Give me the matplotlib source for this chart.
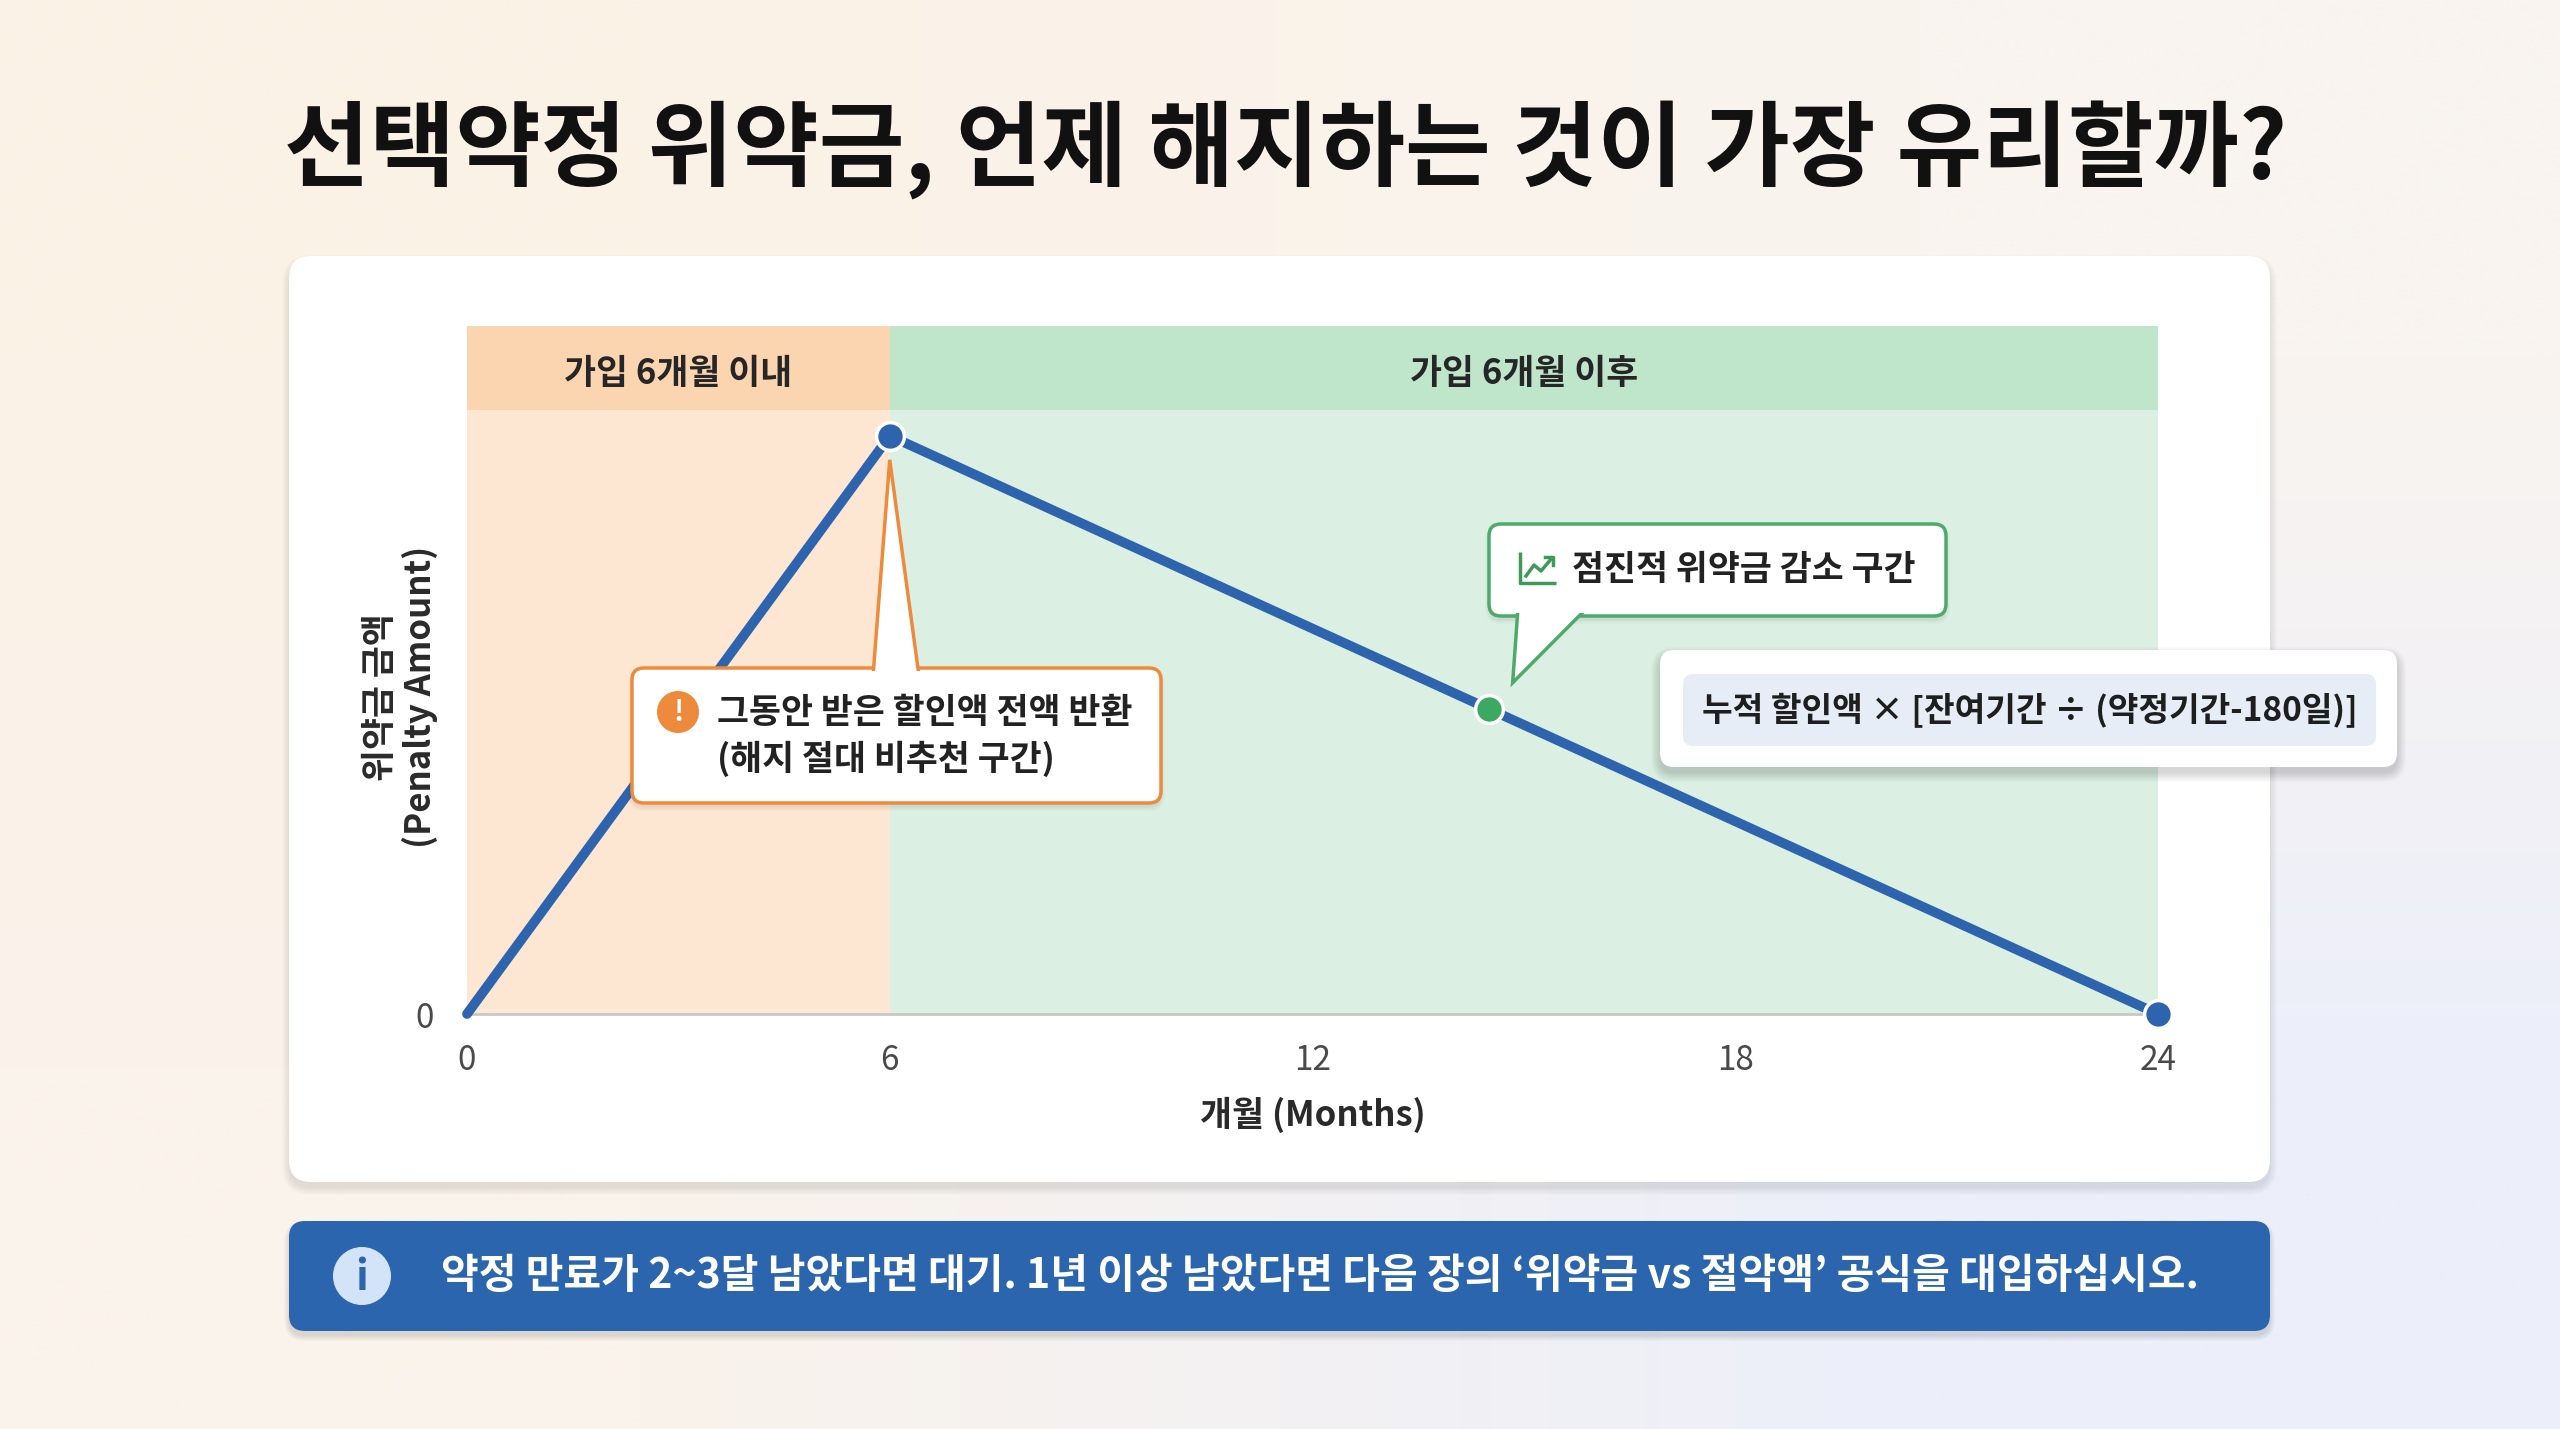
import matplotlib
matplotlib.use("Agg")
import matplotlib.pyplot as plt
import numpy as np
from matplotlib.colors import to_rgb
from matplotlib.patches import FancyBboxPatch, Polygon, Circle

plt.rcParams["font.family"] = ["Noto Sans CJK KR", "DejaVu Sans"]

W, H = 2560, 1429

# chart data
months = [0, 6, 24]
penalty = [0, 100, 0]
marker_months = [6, 24]
marker_values = [100, 0]
mid_month = [14.5]
mid_value = [52.8]
x_ticks = [0, 6, 12, 18, 24]
y_ticks = [0]
phase_edges = [0, 6, 24]
phase_names = ["가입 6개월 이내", "가입 6개월 이후"]

title = "선택약정 위약금, 언제 해지하는 것이 가장 유리할까?"
y_label = "위약금 금액\n(Penalty Amount)"
x_label = "개월 (Months)"
warn_lines = ["그동안 받은 할인액 전액 반환", "(해지 절대 비추천 구간)"]
trend_note = "점진적 위약금 감소 구간"
formula = "누적 할인액 × [잔여기간 ÷ (약정기간-180일)]"
banner = "약정 만료가 2~3달 남았다면 대기. 1년 이상 남았다면 다음 장의 ‘위약금 vs 절약액’ 공식을 대입하십시오."

BLUE = "#2d64ad"
GREEN = "#3da862"
ORANGE = "#ee8a3c"
phase_fill = ["#fde7d3", "#dbf0e2"]
phase_head = ["#fbd5b0", "#bfe6cb"]


def rbox(axo, x, y, w, h, r, **kw):
    p = FancyBboxPatch((x, y), w, h, boxstyle=f"round,pad=0,rounding_size={r}", **kw)
    axo.add_patch(p)
    return p


def shadow(axo, x, y, w, h, r, n=8, dy=6, alpha=0.012, z=1):
    for i in range(n):
        rbox(axo, x - i, y - i + dy, w + 2 * i, h + 2 * i, r + i,
             fc="black", ec="none", alpha=alpha, zorder=z)


fig = plt.figure(figsize=(W / 100, H / 100), dpi=100)

# background layer in pixel coordinates
bg = fig.add_axes([0, 0, 1, 1], zorder=0)
bg.set_xlim(0, W)
bg.set_ylim(H, 0)
bg.axis("off")
corners = np.array([[to_rgb("#fbf2e6"), to_rgb("#f9f4ef")],
                    [to_rgb("#faf3eb"), to_rgb("#eceffa")]])
bg.imshow(corners, extent=(0, W, H, 0), interpolation="bilinear", aspect="auto", zorder=0)

shadow(bg, 289, 256, 1981, 926, 22)
rbox(bg, 289, 256, 1981, 926, 22, fc="white", ec="none", zorder=2)

shadow(bg, 289, 1221, 1981, 110, 16, n=6, dy=5, alpha=0.02)
rbox(bg, 289, 1221, 1981, 110, 16, fc="#2a65ae", ec="none", zorder=2)
bg.add_patch(Circle((362, 1276), 29, fc="#d3e3f8", ec="none", zorder=3))
bg.text(362, 1278, "i", ha="center", va="center", fontsize=30, fontweight="bold",
        color="#2a65ae", zorder=4)
bg.text(441, 1276, banner, ha="left", va="center", fontsize=29.5, fontweight="bold",
        color="white", zorder=4)

fig.text(1286 / W, 1 - 150 / H, title, ha="center", va="center", fontsize=67,
         fontweight="heavy", color="#111111")

# main chart
ax = fig.add_axes([467 / W, 1 - 1014 / H, 1691 / W, 688 / H], zorder=1)
ax.patch.set_alpha(0)
ax.set_xlim(0, 24)
ax.set_ylim(0, 119)
band = 104.5
for i, name in enumerate(phase_names):
    a, b = phase_edges[i], phase_edges[i + 1]
    ax.axvspan(a, b, ymin=0, ymax=band / 119, color=phase_fill[i], lw=0, zorder=0)
    ax.axvspan(a, b, ymin=band / 119, ymax=1, color=phase_head[i], lw=0, zorder=0)
    ax.text((a + b) / 2, (band + 119) / 2 - 0.9, name, ha="center", va="center",
            fontsize=25, fontweight="bold", color="#262626")

ax.plot(months, penalty, color=BLUE, lw=7, solid_capstyle="round", zorder=3, clip_on=False)
ax.plot(marker_months, marker_values, "o", ms=20, mfc=BLUE, mec="white", mew=2.5,
        zorder=4, clip_on=False)
ax.plot(mid_month, mid_value, "o", ms=20, mfc=GREEN, mec="white", mew=2.5,
        zorder=4, clip_on=False)

for s in ["top", "right", "left"]:
    ax.spines[s].set_visible(False)
ax.spines["bottom"].set_color("#c8c8c8")
ax.spines["bottom"].set_linewidth(2)
ax.set_xticks(x_ticks)
ax.set_yticks(y_ticks)
ax.tick_params(length=0, labelsize=24, labelcolor="#4a4a4a")
ax.tick_params(axis="x", pad=21)
ax.tick_params(axis="y", pad=24)
ax.set_xlabel(x_label, fontsize=25, fontweight="bold", color="#2a2a2a")
ax.xaxis.set_label_coords(0.5, -0.12)
ax.set_ylabel(y_label, fontsize=25, fontweight="bold", color="#2a2a2a", linespacing=1.15)
ax.yaxis.set_label_coords(-0.017, 0.461)

# overlay for callouts (pixel coordinates)
ov = fig.add_axes([0, 0, 1, 1], zorder=2)
ov.set_xlim(0, W)
ov.set_ylim(H, 0)
ov.axis("off")
ov.patch.set_alpha(0)


def to_px(x, y):
    d = ax.transData.transform((x, y))
    return ov.transData.inverted().transform(d)


def callout(x, y, w, h, base, tip, edge, top=True):
    shadow(ov, x, y, w, h, 12, n=5, dy=4, alpha=0.015, z=2)
    rbox(ov, x, y, w, h, 12, fc="white", ec=edge, lw=2.5, zorder=3)
    by = y + 8 if top else y + h - 8
    ov.add_patch(Polygon([(base[0], by), tip, (base[1], by)], closed=True,
                         fc="white", ec=edge, lw=2.5, joinstyle="miter", zorder=4))
    rbox(ov, x + 3, y + 3, w - 6, h - 6, 10, fc="white", ec="none", zorder=5)


peak = to_px(marker_months[0], marker_values[0])
callout(632, 668, 529, 135, (873, 919), (peak[0], peak[1] + 24), ORANGE, top=True)
ov.add_patch(Circle((678, 712), 21, fc=ORANGE, ec="none", zorder=6))
ov.text(678, 713, "!", ha="center", va="center", fontsize=20, fontweight="bold",
        color="white", zorder=7)
ov.text(717, 712, warn_lines[0], ha="left", va="center", fontsize=25, fontweight="bold",
        color="#222222", zorder=7)
ov.text(717, 759, warn_lines[1], ha="left", va="center", fontsize=25, fontweight="bold",
        color="#222222", zorder=7)

mid = to_px(mid_month[0], mid_value[0])
callout(1489, 524, 457, 92, (1518, 1587), (mid[0] + 24, mid[1] - 26), "#4caa6a", top=False)
ov.plot([1520, 1520, 1556], [552, 583, 583], color="#3f9a5a", lw=2.5, zorder=7,
        solid_capstyle="butt")
ov.plot([1526, 1534, 1541, 1552], [576, 565, 571, 558], color="#3f9a5a", lw=2.5, zorder=7)
ov.plot([1545, 1553, 1553], [557, 557, 565], color="#3f9a5a", lw=2.5, zorder=7)
ov.text(1572, 569, trend_note, ha="left", va="center", fontsize=25, fontweight="bold",
        color="#222222", zorder=7)

shadow(ov, 1660, 650, 737, 117, 14, n=10, dy=6, alpha=0.014, z=2)
rbox(ov, 1660, 650, 737, 117, 14, fc="white", ec="none", zorder=3)
rbox(ov, 1683, 674, 693, 72, 10, fc="#e7edf6", ec="none", zorder=4)
ov.text(2030, 711, formula, ha="center", va="center", fontsize=24, fontweight="bold",
        color="#1e1e1e", zorder=5)

fig.savefig("out.png", dpi=100)
